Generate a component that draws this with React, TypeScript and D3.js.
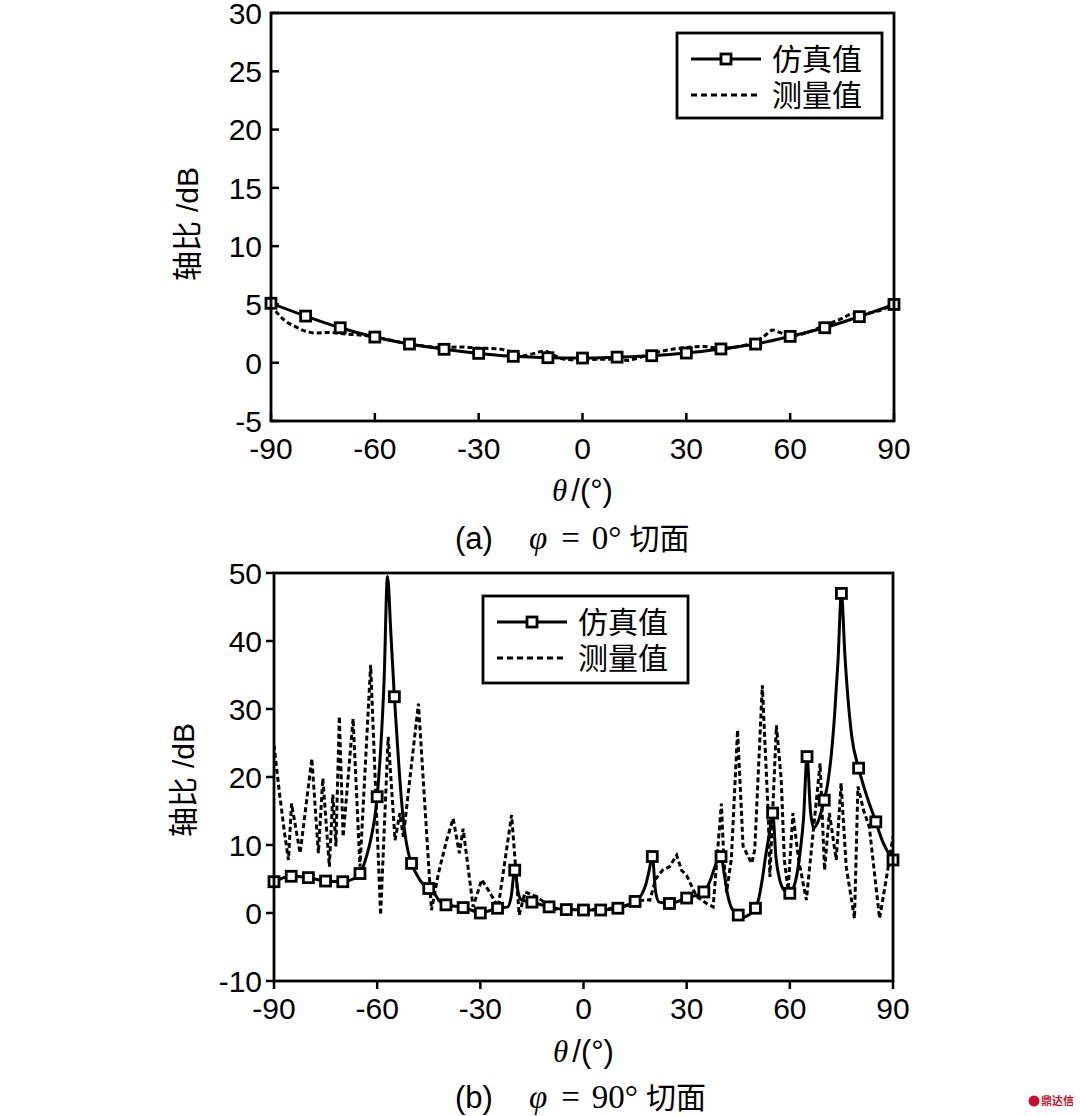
import React from "react";
import * as d3 from "d3";

// ---------- DATA ----------
// (a) phi = 0 cut
const simThetaA = [-90, -80, -70, -60, -50, -40, -30, -20, -10, 0, 10, 20, 30, 40, 50, 60, 70, 80, 90];
const simValueA = [5.1, 4.0, 3.0, 2.2, 1.6, 1.15, 0.8, 0.55, 0.43, 0.4, 0.48, 0.6, 0.83, 1.18, 1.6, 2.26, 3.0, 3.95, 5.0];
const measThetaA = [-90, -88, -86, -83, -80, -77, -73, -70, -65, -60, -55, -50, -45, -40, -35, -30, -25, -20, -17, -14, -11, -8, -5, 0, 5, 10, 13, 16, 20, 25, 30, 35, 40, 45, 50, 53, 55, 57, 60, 65, 70, 75, 78, 80, 85, 90];
const measValueA = [5.0, 4.2, 3.6, 3.1, 2.7, 2.55, 2.6, 2.5, 2.4, 2.2, 1.9, 1.6, 1.4, 1.3, 1.35, 1.25, 1.2, 0.9, 0.6, 0.8, 1.0, 0.6, 0.3, 0.25, 0.3, 0.3, 0.2, 0.4, 0.8, 1.1, 1.3, 1.4, 1.2, 1.4, 1.8, 2.4, 2.8, 2.6, 2.3, 2.6, 3.2, 3.8, 4.2, 4.2, 4.4, 5.0];

// (b) phi = 90 cut
const simThetaB = [-90, -85, -80, -75, -70, -67, -65, -63, -62, -60, -59, -58, -57, -56, -55, -54, -53, -52, -51, -50, -48, -46, -45, -44, -43, -42, -40, -35, -32, -30, -27, -25, -22, -21, -20, -19, -18, -15, -10, -5, 0, 5, 10, 15, 17, 18, 19, 20, 21, 22, 25, 30, 35, 36, 37, 38, 39, 40, 41, 42, 43, 45, 46, 48, 50, 51, 52, 53, 54, 55, 56, 57, 58, 60, 61, 62, 63, 64, 65, 66, 67, 68, 70, 71, 72, 73, 74, 75, 76, 77, 78, 80, 82, 85, 87, 90];
const simValueB = [4.6, 5.4, 5.2, 4.7, 4.6, 5.0, 5.8, 8.5, 10.5, 17.1, 24, 34, 49.5, 41, 31.8, 24, 17, 12, 9, 7.3, 5.2, 3.9, 3.6, 3.5, 2.6, 1.8, 1.2, 0.8, 0.3, 0.0, 0.4, 0.7, 0.9, 2.5, 6.3, 3.0, 1.9, 1.6, 0.9, 0.5, 0.44, 0.44, 0.7, 1.7, 2.8, 4.0, 6.0, 8.3, 3.0, 1.6, 1.4, 2.2, 3.1, 3.8, 5.0, 6.5, 7.8, 8.3, 5.5, 2.5, 0.8, -0.3, -0.7, -0.3, 0.7, 2.2, 5, 8.5, 11.5, 14.7, 8, 5, 3.6, 2.9, 3.6, 5.5, 9, 14, 23, 15, 12.5, 13.2, 16.6, 19, 23, 29, 37, 47, 38, 31, 26, 21.3, 17.8, 13.4, 10.5, 7.8];
const measThetaB = [-90, -88.5, -87, -85.8, -84.9, -82.4, -79, -77.1, -75.8, -73.9, -72.9, -72, -71, -69.9, -67, -65, -61.9, -59, -56.8, -54.8, -53.4, -52.4, -48, -44.2, -42.2, -39.8, -37.9, -36.1, -35, -32.1, -29.6, -27.7, -24.8, -20.9, -18.7, -17, -13.6, -8.8, -5, 0, 5, 10, 15, 18, 19.3, 21, 23, 25, 27.1, 28.5, 30, 32.9, 35.8, 37.7, 40.1, 40.8, 41.6, 43, 44.8, 46.4, 48.9, 49.8, 52, 53.7, 54.2, 56.1, 57.5, 58.4, 59.5, 60.9, 62.5, 64.8, 68.8, 70.1, 71.5, 73.5, 74.9, 76.4, 78.8, 79.8, 81.5, 83.1, 86.1, 88, 90];
const measValueB = [24.7, 18, 12, 7.8, 16.1, 8.8, 22.7, 8.8, 19.8, 6.8, 17.4, 9.8, 28.9, 11.2, 28.6, 6.8, 36.5, -0.3, 25.9, 10.7, 14.7, 11.2, 30.8, 0.4, 5.8, 10.7, 13.9, 8.8, 12.4, 0.9, 4.9, 3.4, 0.9, 14.4, -0.3, 3.1, 2.4, 0.6, 0.5, 0.5, 0.5, 0.8, 1.5, 2.0, 1.9, 5, 6.3, 6.8, 8.5, 6.3, 5.5, 2.4, 1.4, 0.9, 16.1, 8, 3, 8, 26.9, 9.8, 7.3, 9.3, 33.5, 14.7, 5.3, 27.6, 19.6, 7.8, 3.4, 14.7, 8, 1.9, 22, 6.3, 14.7, 7.8, 19.1, 6.8, -0.8, 18.6, 15, 12.7, -0.8, 4.9, 11.2];

const xTicks = [-90, -60, -30, 0, 30, 60, 90];
const yTicksA = [-5, 0, 5, 10, 15, 20, 25, 30];
const yTicksB = [-10, 0, 10, 20, 30, 40, 50];
const legendLabels = ["仿真值", "测量值"];
const yLabelCjk = "轴比";
const yLabelUnit = "/dB";

const SANS = "'Liberation Sans', Arial, sans-serif";
const CJK = "'Noto Sans CJK SC', sans-serif";
const SERIF = "'Liberation Serif', 'Times New Roman', serif";

type Panel = {
  x0: number; x1: number; y0: number; y1: number;
  yDomain: [number, number]; yTicks: number[];
  tickIn: boolean;
  simT: number[]; simV: number[]; markerStep: number;
  measT: number[]; measV: number[]; measCurve: any;
  legend: { x: number; y: number; w: number; h: number };
  ylabelX: number; ylabelY: number;
  xlabelY: number; captionY: number; caption: string; capLetter: string;
};

function Chart({ p }: { p: Panel }) {
  const x = d3.scaleLinear().domain([-90, 90]).range([p.x0, p.x1]);
  const y = d3.scaleLinear().domain(p.yDomain).range([p.y1, p.y0]);
  const simPts = p.simT.map((t, i) => [t, p.simV[i]] as [number, number]);
  const measPts = p.measT.map((t, i) => [t, p.measV[i]] as [number, number]);
  const simLine = d3.line<[number, number]>().x(d => x(d[0])).y(d => y(d[1])).curve(d3.curveMonotoneX);
  const measLine = d3.line<[number, number]>().x(d => x(d[0])).y(d => y(d[1])).curve(p.measCurve);
  const markers = simPts.filter(d => Math.abs(d[0] % p.markerStep) < 1e-6);
  const ms = 10;
  const tl = 8;
  const tdir = p.tickIn ? 1 : -1;
  const clipId = "clip" + p.capLetter;
  const L = p.legend;
  const r1 = L.y + 26, r2 = L.y + 62;
  return (
    <g>
      <defs>
        <clipPath id={clipId}>
          <rect x={p.x0} y={p.y0} width={p.x1 - p.x0} height={p.y1 - p.y0} />
        </clipPath>
      </defs>
      {p.yTicks.map(t => (
        <g key={"y" + t}>
          <line x1={p.x0} x2={p.x0 + tdir * tl} y1={y(t)} y2={y(t)} stroke="#000" strokeWidth={2.5} />
          <text x={p.x0 - (p.tickIn ? 9 : 12)} y={y(t)} dy="0.36em" textAnchor="end" fontFamily={SANS} fontSize={30}>{t}</text>
        </g>
      ))}
      {xTicks.map(t => (
        <g key={"x" + t}>
          <line x1={x(t)} x2={x(t)} y1={p.y1} y2={p.y1 - tdir * tl} stroke="#000" strokeWidth={2.5} />
          <text x={x(t)} y={p.y1 + 38} textAnchor="middle" fontFamily={SANS} fontSize={30}>{t}</text>
        </g>
      ))}
      <g clipPath={`url(#${clipId})`}>
        <path d={measLine(measPts) || ""} fill="none" stroke="#000" strokeWidth={3} strokeDasharray="5,3" />
        <path d={simLine(simPts) || ""} fill="none" stroke="#000" strokeWidth={3} />
      </g>
      {markers.map((d, i) => (
        <rect key={i} x={x(d[0]) - ms / 2} y={y(d[1]) - ms / 2} width={ms} height={ms} fill="#fff" stroke="#000" strokeWidth={2.8} />
      ))}
      <rect x={p.x0} y={p.y0} width={p.x1 - p.x0} height={p.y1 - p.y0} fill="none" stroke="#000" strokeWidth={2.8} />
      {/* legend */}
      <rect x={L.x} y={L.y} width={L.w} height={L.h} fill="#fff" stroke="#000" strokeWidth={2.8} />
      <line x1={L.x + 14} x2={L.x + 84} y1={r1} y2={r1} stroke="#000" strokeWidth={3} />
      <rect x={L.x + 49 - ms / 2} y={r1 - ms / 2} width={ms} height={ms} fill="#fff" stroke="#000" strokeWidth={2.8} />
      <line x1={L.x + 14} x2={L.x + 84} y1={r2} y2={r2} stroke="#000" strokeWidth={3} strokeDasharray="6,4" />
      <text x={L.x + 95} y={r1} dy="0.35em" fontFamily={CJK} fontSize={30}>{legendLabels[0]}</text>
      <text x={L.x + 95} y={r2} dy="0.35em" fontFamily={CJK} fontSize={30}>{legendLabels[1]}</text>
      {/* y label */}
      <text transform={`translate(${p.ylabelX},${p.ylabelY}) rotate(-90)`} textAnchor="middle" dy="0.36em" fontSize={30}>
        <tspan fontFamily={CJK}>{yLabelCjk}</tspan>
        <tspan fontFamily={SANS} dx="9">{yLabelUnit}</tspan>
      </text>
      {/* x label */}
      <text x={(p.x0 + p.x1) / 2} y={p.xlabelY} textAnchor="middle" fontSize={31}>
        <tspan fontFamily={SERIF} fontStyle="italic">θ</tspan>
        <tspan fontFamily={SANS} dx="4">/(°)</tspan>
      </text>
      {/* caption */}
      <text x={455} y={p.captionY} fontSize={31}>
        <tspan fontFamily={SANS}>({p.capLetter})</tspan>
        <tspan fontFamily={SERIF} fontStyle="italic" fontSize={33} dx="36">φ</tspan>
        <tspan fontFamily={SERIF} fontSize={33} dx="14">=</tspan>
        <tspan fontFamily={SERIF} fontSize={33} dx="12">{p.caption}°</tspan>
        <tspan fontFamily={CJK} fontSize={30} dx="8">切面</tspan>
      </text>
    </g>
  );
}

export default function App() {
  const panelA: Panel = {
    x0: 271, x1: 894, y0: 13, y1: 421, yDomain: [-5, 30], yTicks: yTicksA, tickIn: true,
    simT: simThetaA, simV: simValueA, markerStep: 10,
    measT: measThetaA, measV: measValueA, measCurve: d3.curveMonotoneX,
    legend: { x: 677, y: 33, w: 205, h: 85 },
    ylabelX: 187, ylabelY: 224, xlabelY: 501, captionY: 549, caption: "0", capLetter: "a",
  };
  const panelB: Panel = {
    x0: 274, x1: 893, y0: 573, y1: 981, yDomain: [-10, 50], yTicks: yTicksB, tickIn: false,
    simT: simThetaB, simV: simValueB, markerStep: 5,
    measT: measThetaB, measV: measValueB, measCurve: d3.curveLinear,
    legend: { x: 483, y: 596, w: 205, h: 87 },
    ylabelX: 183, ylabelY: 780, xlabelY: 1062, captionY: 1108, caption: "90", capLetter: "b",
  };
  return (
    <svg width={1080} height={1116} style={{ position: "absolute", left: 0, top: 0, background: "#fff" }}>
      <rect width={1080} height={1116} fill="#fff" />
      <Chart p={panelA} />
      <Chart p={panelB} />
      <g>
        <circle cx={1034} cy={1101} r={5.5} fill="#c8102e" />
        <text x={1041} y={1105} fontFamily={CJK} fontSize={11} fill="#c8102e" fontWeight="bold">鼎达信</text>
      </g>
    </svg>
  );
}
